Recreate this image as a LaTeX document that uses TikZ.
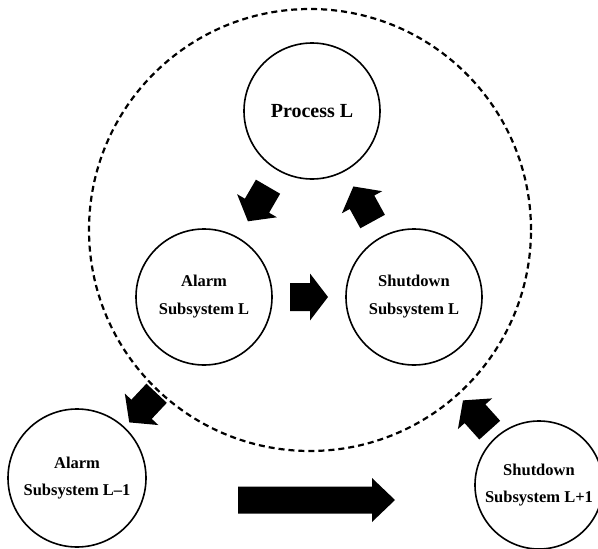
\documentclass[tikz,border=0pt]{standalone}
\usepackage{fontspec}
\setmainfont{Liberation Serif}
\usetikzlibrary{calc}

\tikzset{
  unit/.style={circle, draw, line width=1.6pt, minimum size=136pt, inner sep=0pt,
    align=center, font=\bfseries\fontsize{16.5}{28}\selectfont},
  system/.style={circle, draw, line width=2.2pt, dash pattern=on 6pt off 4pt,
    minimum size=442pt, inner sep=0pt},
}

% Solid block arrow from #1 (tail) to #2 (tip);
% #3 half shaft width, #4 half head width, #5 head length
\newcommand\fatarrow[5]{%
  \coordinate (fa-h) at ($(#2)!#5!(#1)$);
  \fill ($(#1)!#3!90:(#2)$) -- ($(fa-h)!#3!90:(#2)$) -- ($(fa-h)!#4!90:(#2)$)
    -- (#2) -- ($(fa-h)!#4!-90:(#2)$) -- ($(fa-h)!#3!-90:(#2)$)
    -- ($(#1)!#3!-90:(#2)$) -- cycle;
}

\begin{document}
\begin{tikzpicture}[x=1pt, y=-1pt]
  \fill[white] (0,0) rectangle (598,549);
  \useasboundingbox (0,0) rectangle (598,549);
  \clip (0,0) rectangle (598,549);

  % level L system boundary
  \node[system] (sys) at (310,230) {};

  % units of level L
  \node[unit, font=\bfseries\fontsize{20}{26}\selectfont] (pl) at (312,111) {Process L};
  \node[unit] (al) at (204,297) {Alarm\\Subsystem L};
  \node[unit] (sl) at (414,297) {Shutdown\\Subsystem L};

  % neighbouring levels
  \node[unit, minimum size=138pt, font=\bfseries\fontsize{16.5}{27}\selectfont]
    (am1) at (77,478) {Alarm\\Subsystem L--1};
  \node[unit, minimum size=128pt, font=\bfseries\fontsize{16.5}{27}\selectfont]
    (sd1) at (539,485) {Shutdown\\Subsystem L+1};

  % arrow end points
  \coordinate (a1s) at ($(pl)!0.5!(al)!20pt!(pl)$);
  \coordinate (a1e) at ($(pl)!0.5!(al)!20pt!(al)$);
  \coordinate (a2s) at ($(sl)!0.5!(pl)!20pt!(sl)$);
  \coordinate (a2e) at ($(sl)!0.5!(pl)!20pt!(pl)$);
  \coordinate (a3s) at ($(al)!0.5!(sl)!19pt!(al)$);
  \coordinate (a3e) at ($(al)!0.5!(sl)!19pt!(sl)$);
  \coordinate (a4s) at ($(sys)!224pt!(am1)$);
  \coordinate (a4e) at ($(sys)!264pt!(am1)$);
  \coordinate (a5s) at ($(sys)!269pt!(sd1)$);
  \coordinate (a5e) at ($(sys)!229pt!(sd1)$);
  \coordinate (bigs) at (238,500);
  \coordinate (bige) at (395,500);

  \fatarrow{a1s}{a1e}{14pt}{23pt}{18pt}
  \fatarrow{a2s}{a2e}{14pt}{23pt}{18pt}
  \fatarrow{a3s}{a3e}{14pt}{23.5pt}{18pt}
  \fatarrow{a4s}{a4e}{14pt}{23pt}{18pt}
  \fatarrow{a5s}{a5e}{14pt}{23pt}{18pt}
  \fatarrow{bigs}{bige}{13.5pt}{22pt}{23pt}
\end{tikzpicture}
\end{document}
